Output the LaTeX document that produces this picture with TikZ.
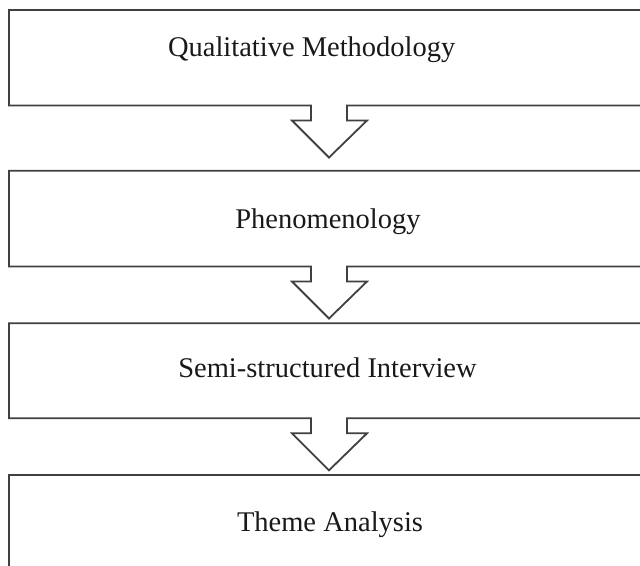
\documentclass[tikz,border=0pt]{standalone}
\usepackage{fontspec}
\setmainfont{Liberation Serif}
\begin{document}
\begin{tikzpicture}[x=1bp,y=-1bp,
  boxline/.style={draw=black!75, line width=1.8bp, line join=miter},
  lbl/.style={anchor=base, inner sep=0pt, font=\fontsize{28.5bp}{34bp}\selectfont, text=black!90}]
\useasboundingbox (0,0) rectangle (640,566);
\clip (0,0) rectangle (640,566);
% box with arrow below: #1 top, #2 bottom
\newcommand{\arrowbox}[2]{%
  \draw[boxline] (660,#1) -- (9,#1) -- (9,#2) -- (311,#2) -- (311,#2+15) -- (292,#2+15)
    -- (329,#2+52) -- (367,#2+15) -- (347,#2+15) -- (347,#2) -- (660,#2);}
\arrowbox{10}{105.5}
\arrowbox{170.7}{266.5}
\arrowbox{323.3}{418.3}
\draw[boxline] (660,475) -- (9,475) -- (9,580);
\node[lbl] (t1) at (311.7,57) {Qualitative Methodology};
\node[lbl] (t2) at (328,228) {Phenomenology};
\node[lbl] (t3) at (327.5,377) {Semi-structured Interview};
\node[lbl] (t4) at (330,531) {Theme Analysis};
\end{tikzpicture}
\end{document}
